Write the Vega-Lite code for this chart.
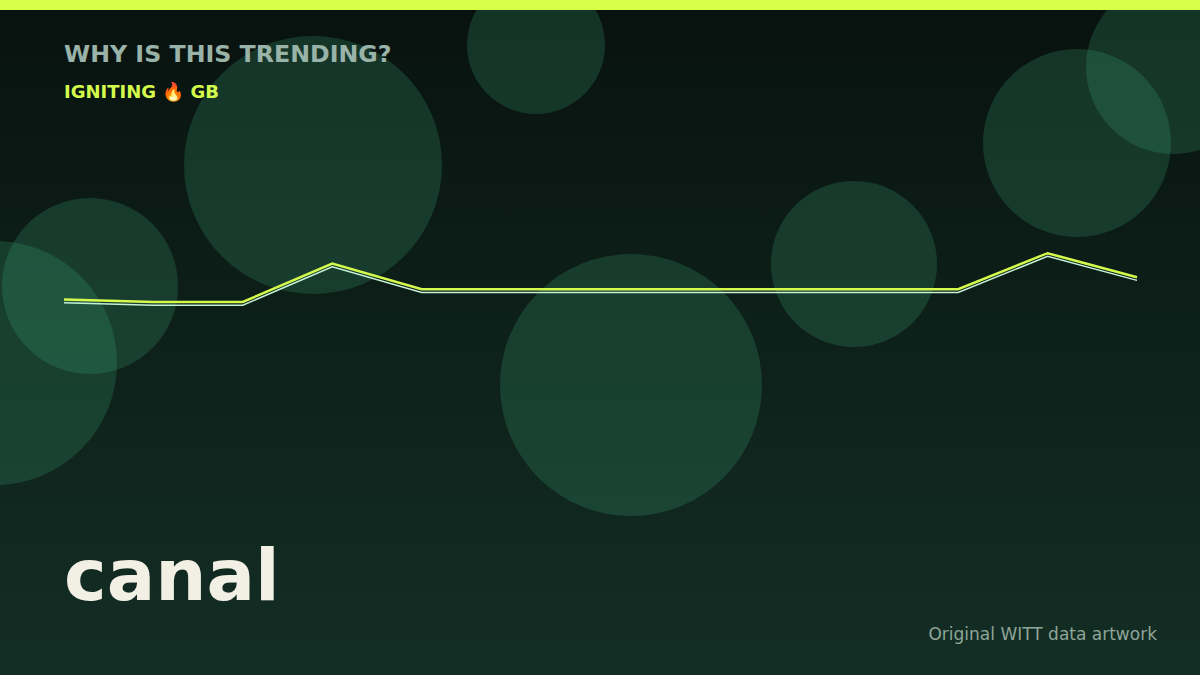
{
  "$schema": "https://vega.github.io/schema/vega-lite/v6.json",
  "width": 1200,
  "height": 675,
  "padding": 0,
  "autosize": {"type": "none"},
  "background": "#0a1612",
  "config": {"view": {"stroke": null}, "font": "DejaVu Sans"},
  "datasets": {
    "bubbles": [
      {"x": 313, "y": 165, "r": 129},
      {"x": 536, "y": 45, "r": 69},
      {"x": 90, "y": 286, "r": 88},
      {"x": -5, "y": 363, "r": 122},
      {"x": 631, "y": 385, "r": 131},
      {"x": 854, "y": 264, "r": 83},
      {"x": 1077, "y": 143, "r": 94},
      {"x": 1173, "y": 67, "r": 87}
    ],
    "trend": [
      {"t": 0, "v": 38},
      {"t": 1, "v": 35},
      {"t": 2, "v": 35},
      {"t": 3, "v": 83},
      {"t": 4, "v": 51},
      {"t": 5, "v": 51},
      {"t": 6, "v": 51},
      {"t": 7, "v": 51},
      {"t": 8, "v": 51},
      {"t": 9, "v": 51},
      {"t": 10, "v": 51},
      {"t": 11, "v": 96},
      {"t": 12, "v": 66}
    ],
    "one": [{}]
  },
  "resolve": {"scale": {"x": "independent", "y": "independent", "size": "independent"}},
  "layer": [
    {
      "data": {"name": "one"},
      "mark": {
        "type": "rect",
        "color": {
          "gradient": "linear",
          "x1": 0, "y1": 0, "x2": 0, "y2": 1,
          "stops": [
            {"offset": 0, "color": "#08120f"},
            {"offset": 1, "color": "#132e25"}
          ]
        }
      },
      "encoding": {}
    },
    {
      "data": {"name": "bubbles"},
      "mark": {"type": "circle", "color": "#3fae7a", "opacity": 0.22, "strokeWidth": 0},
      "encoding": {
        "x": {"field": "x", "type": "quantitative", "axis": null, "scale": {"domain": [0, 1200]}},
        "y": {"field": "y", "type": "quantitative", "axis": null, "scale": {"domain": [0, 675], "reverse": true}},
        "size": {"field": "r", "type": "quantitative", "legend": null, "scale": {"type": "pow", "exponent": 2, "domain": [0, 150], "range": [0, 90000]}}
      }
    },
    {
      "data": {"name": "trend"},
      "mark": {"type": "line", "color": "#c6f2d6", "strokeWidth": 1.5, "yOffset": 3.2},
      "encoding": {
        "x": {"field": "t", "type": "quantitative", "axis": null, "scale": {"domain": [0, 12], "range": [64, 1137]}},
        "y": {"field": "v", "type": "quantitative", "axis": null, "scale": {"domain": [0, 100], "range": [330, 250]}}
      }
    },
    {
      "data": {"name": "trend"},
      "mark": {"type": "line", "color": "#d4fb4c", "strokeWidth": 2.5},
      "encoding": {
        "x": {"field": "t", "type": "quantitative", "axis": null, "scale": {"domain": [0, 12], "range": [64, 1137]}},
        "y": {"field": "v", "type": "quantitative", "axis": null, "scale": {"domain": [0, 100], "range": [330, 250]}}
      }
    },
    {
      "data": {"name": "one"},
      "mark": {"type": "text", "text": "WHY IS THIS TRENDING?", "font": "DejaVu Sans", "fontWeight": "bold", "fontSize": 23.7, "color": "#9ab3a8", "align": "left", "baseline": "alphabetic"},
      "encoding": {
        "x": {"datum": 64, "type": "quantitative", "axis": null, "scale": {"domain": [0, 1200]}},
        "y": {"datum": 62, "type": "quantitative", "axis": null, "scale": {"domain": [0, 675], "reverse": true}}
      }
    },
    {
      "data": {"name": "one"},
      "mark": {"type": "text", "text": "IGNITING 🔥 GB", "font": "DejaVu Sans", "fontWeight": "bold", "fontSize": 18, "color": "#d4fb4c", "align": "left", "baseline": "alphabetic"},
      "encoding": {
        "x": {"datum": 64, "type": "quantitative", "axis": null, "scale": {"domain": [0, 1200]}},
        "y": {"datum": 98, "type": "quantitative", "axis": null, "scale": {"domain": [0, 675], "reverse": true}}
      }
    },
    {
      "data": {"name": "one"},
      "mark": {"type": "text", "text": "canal", "font": "DejaVu Sans", "fontWeight": "bold", "fontSize": 72, "color": "#f2efe4", "align": "left", "baseline": "alphabetic"},
      "encoding": {
        "x": {"datum": 64, "type": "quantitative", "axis": null, "scale": {"domain": [0, 1200]}},
        "y": {"datum": 600, "type": "quantitative", "axis": null, "scale": {"domain": [0, 675], "reverse": true}}
      }
    },
    {
      "data": {"name": "one"},
      "mark": {"type": "text", "text": "Original WITT data artwork", "font": "DejaVu Sans", "fontSize": 17, "color": "#8fa598", "align": "right", "baseline": "alphabetic"},
      "encoding": {
        "x": {"datum": 1157, "type": "quantitative", "axis": null, "scale": {"domain": [0, 1200]}},
        "y": {"datum": 640, "type": "quantitative", "axis": null, "scale": {"domain": [0, 675], "reverse": true}}
      }
    },
    {
      "data": {"name": "one"},
      "mark": {"type": "rect", "color": "#d8ff48"},
      "encoding": {
        "y": {"datum": 0, "type": "quantitative", "axis": null, "scale": {"domain": [0, 675], "reverse": true}},
        "y2": {"datum": 10}
      }
    }
  ]
}
